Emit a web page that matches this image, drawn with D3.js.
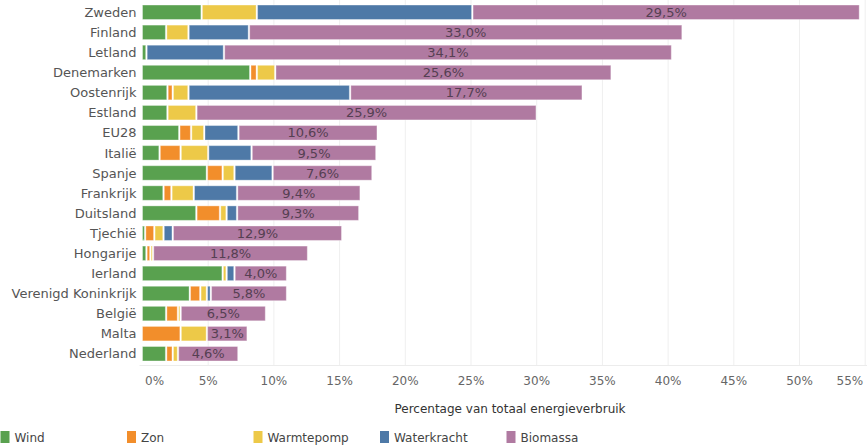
<!DOCTYPE html>
<html>
<head>
<meta charset="utf-8">
<script src="https://cdn.jsdelivr.net/npm/d3@7"></script>
<style>
  body { margin: 0; background: #fff; }
  svg { display: block; font-family: "DejaVu Sans", Verdana, sans-serif; }
</style>
</head>
<body>
<div id="chart"></div>
<script>
// Countries, top to bottom
const countries = ['Zweden', 'Finland', 'Letland', 'Denemarken', 'Oostenrijk', 'Estland', 'EU28', 'Italië',
                   'Spanje', 'Frankrijk', 'Duitsland', 'Tjechië', 'Hongarije', 'Ierland',
                   'Verenigd Koninkrijk', 'België', 'Malta', 'Nederland'];

// Share of total energy use per source (%)
const wind        = [4.5, 1.8, 0.3, 8.2, 1.9, 1.9, 2.8, 1.3, 4.9, 1.6, 4.1, 0.2, 0.3, 6.1, 3.6, 1.8, 0.0, 1.8];
const zon         = [0.0, 0.0, 0.0, 0.5, 0.4, 0.0, 0.9, 1.6, 1.2, 0.6, 1.8, 0.7, 0.3, 0.0, 0.8, 0.9, 2.9, 0.5];
const warmtepomp  = [4.2, 1.7, 0.0, 1.4, 1.2, 2.2, 1.0, 2.1, 0.9, 1.7, 0.5, 0.7, 0.2, 0.3, 0.5, 0.2, 2.0, 0.4];
const waterkracht = [16.4, 4.6, 5.9, 0.0, 12.3, 0.0, 2.6, 3.3, 2.9, 3.3, 0.8, 0.7, 0.0, 0.6, 0.3, 0.0, 0.0, 0.0];
const biomassa    = [29.5, 33.0, 34.1, 25.6, 17.7, 25.9, 10.6, 9.5, 7.6, 9.4, 9.3, 12.9, 11.8, 4.0, 5.8, 6.5, 3.1, 4.6];

const sources = ['Wind', 'Zon', 'Warmtepomp', 'Waterkracht', 'Biomassa'];
const colors  = ['#59a14f', '#f28e2b', '#edc948', '#4e79a7', '#b07aa1'];
const xTicks  = [0, 5, 10, 15, 20, 25, 30, 35, 40, 45, 50, 55];

const W = 867, H = 448;
const margin = { left: 142.5, right: 1.8, top: 0, bottom: 82 };

// build rows for stacking
const rows = countries.map((c, i) => ({
    country: c,
    Wind: wind[i], Zon: zon[i], Warmtepomp: warmtepomp[i],
    Waterkracht: waterkracht[i], Biomassa: biomassa[i]
}));

const svg = d3.select('#chart').append('svg').attr('width', W).attr('height', H);

const x = d3.scaleLinear().domain([0, 55]).range([margin.left, W - margin.right]);
const y = d3.scaleBand().domain(countries).range([0, H - margin.bottom])
            .paddingInner(0.28).paddingOuter(0.25);
const color = d3.scaleOrdinal().domain(sources).range(colors);

// gridlines
svg.append('g').attr('class', 'grid')
    .selectAll('line').data(xTicks.slice(1)).join('line')
    .attr('x1', d => x(d)).attr('x2', d => x(d))
    .attr('y1', 0).attr('y2', H - margin.bottom)
    .attr('stroke', '#efefef').attr('stroke-width', 1);

svg.append('line')
    .attr('x1', margin.left - 3).attr('x2', W)
    .attr('y1', H - margin.bottom - 0.5).attr('y2', H - margin.bottom - 0.5)
    .attr('stroke', '#ececec');

// stacked bars
const stacked = d3.stack().keys(sources)(rows);
const gap = 1.5;

const layers = svg.append('g').selectAll('g').data(stacked).join('g')
    .attr('fill', d => color(d.key));

layers.selectAll('rect')
    .data(d => d.filter(s => s[1] - s[0] > 0))
    .join('rect')
    .attr('x', s => x(s[0]) + (s[0] > 0 ? gap / 2 : 0))
    .attr('y', s => y(s.data.country))
    .attr('width', s => Math.max(0.8, x(s[1]) - x(s[0]) - (s[0] > 0 ? gap : gap / 2)))
    .attr('height', y.bandwidth())
    .attr('stroke', '#ffffff').attr('stroke-opacity', 0.35).attr('stroke-width', 1);

// biomass value labels
const bio = stacked.find(l => l.key === 'Biomassa');
svg.append('g').selectAll('text').data(bio).join('text')
    .attr('x', s => (x(s[0]) + x(s[1])) / 2)
    .attr('y', s => y(s.data.country) + y.bandwidth() / 2)
    .attr('dy', '0.36em')
    .attr('text-anchor', 'middle')
    .attr('font-size', 13)
    .attr('fill', '#553f52')
    .text(s => d3.format('.1f')(s[1] - s[0]).replace('.', ',') + '%');

// country labels
svg.append('g').selectAll('text').data(countries).join('text')
    .attr('x', 136.5)
    .attr('y', d => y(d) + y.bandwidth() / 2)
    .attr('dy', '0.36em')
    .attr('text-anchor', 'end')
    .attr('font-size', 13)
    .attr('fill', '#555')
    .text(d => d);

// x axis tick labels (first and last kept inside the frame)
svg.append('g').selectAll('text').data(xTicks).join('text')
    .attr('x', d => d === 0 ? x(d) + 2.5 : d === 55 ? x(d) - 2 : x(d))
    .attr('y', 385)
    .attr('text-anchor', d => d === 0 ? 'start' : d === 55 ? 'end' : 'middle')
    .attr('font-size', 12)
    .attr('fill', '#666')
    .text(d => d + '%');

svg.append('text')
    .attr('x', 510).attr('y', 413)
    .attr('text-anchor', 'middle')
    .attr('font-size', 12)
    .attr('fill', '#333')
    .text('Percentage van totaal energieverbruik');

// legend
const legend = svg.append('g').selectAll('g').data(sources).join('g')
    .attr('transform', (d, i) => `translate(${0.5 + i * 126.5},431)`);
legend.append('rect').attr('width', 9).attr('height', 12).attr('fill', d => color(d));
legend.append('text').attr('x', 14).attr('y', 10.5)
    .attr('font-size', 12).attr('fill', '#444').text(d => d);
</script>
</body>
</html>
